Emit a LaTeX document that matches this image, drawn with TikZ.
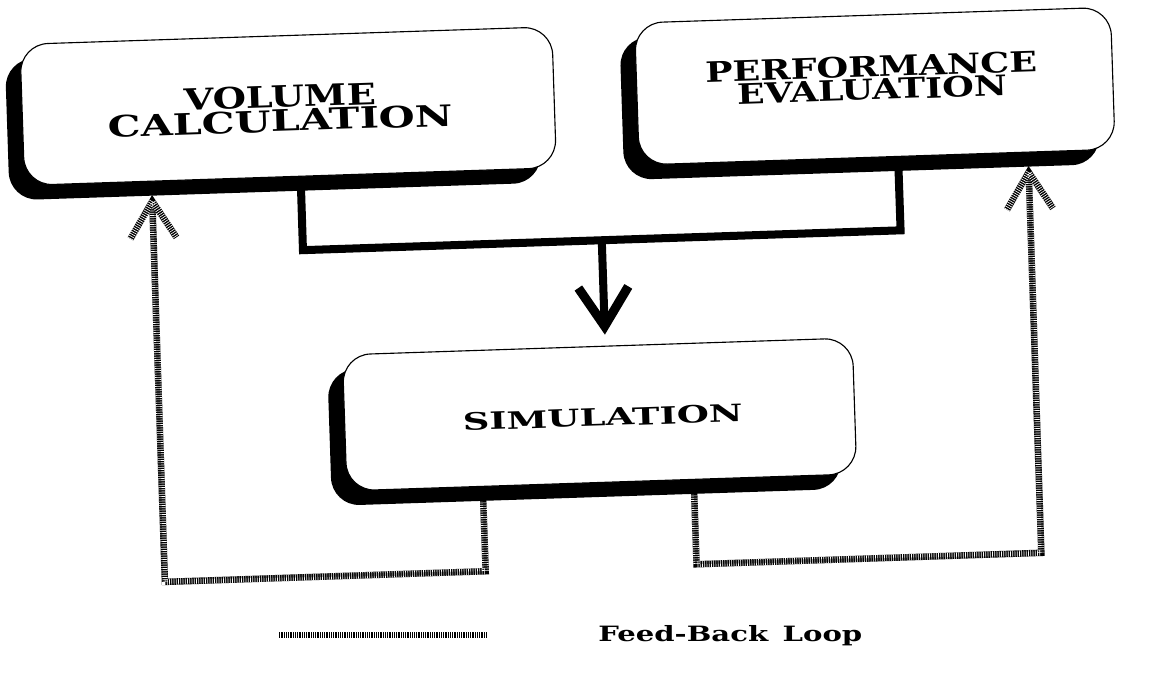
\documentclass[tikz,border=0pt]{standalone}
\usepackage{fontspec}
\setmainfont{DejaVu Serif}
\usepackage{graphicx}
\usetikzlibrary{shadows,backgrounds,calc}

% stretch a line of text to a given width, keeping its height
\newcommand{\stretchto}[2]{\resizebox{#1}{\height}{#2}}

\begin{document}
\begin{tikzpicture}[x=0.025cm, y=-0.025cm,
  box/.style={draw=black, line width=0.8pt, fill=white, rounded corners=0.7cm,
    transform shape, inner sep=0pt,
    general shadow={shadow xshift=-0.375cm, shadow yshift=-0.375cm, fill=black}},
  boxtext/.style={align=center, transform shape, inner sep=0pt},
  flow/.style={line width=5.7pt, draw=black},
  flowhead/.style={line width=6.5pt, draw=black, line join=miter},
  fbline/.style={line width=4.6pt, draw=black, line join=miter,
    postaction={draw=white, line width=4.6pt, dash pattern=on 0.45pt off 1.15pt}},
]
\useasboundingbox (0,0) rectangle (1162,675);
\begin{pgfonlayer}{background}
  \fill[white] (0,0) rectangle (1162,675);
\end{pgfonlayer}

\begin{scope}[rotate around={1.9:(581,337)}]
  % the three process boxes
  \node[box, minimum width=13.3cm, minimum height=3.525cm] (vol) at (296,96.5) {};
  \node[box, minimum width=11.9cm, minimum height=3.55cm] (perf) at (883,96) {};
  \node[box, minimum width=12.75cm, minimum height=3.4cm] (sim) at (597,415) {};

  \node[boxtext, font=\fontsize{21}{17}\selectfont\bfseries] (voltext) at (288,99)
    {\stretchto{4.8cm}{VOLUME}\\\stretchto{8.625cm}{CALCULATION}};
  \node[boxtext, font=\fontsize{20}{16.2}\selectfont\bfseries] (perftext) at (880,88)
    {\stretchto{8.3cm}{PERFORMANCE}\\\stretchto{6.75cm}{EVALUATION}};
  \node[boxtext, font=\fontsize{17}{17}\selectfont\bfseries] (simtext) at (600,418)
    {\stretchto{7cm}{SIMULATION}};

  % bends and tips of the connectors
  \coordinate (va) at ($(vol.south west)!0.519!(vol.south east)$);
  \coordinate (vb) at (306,241);
  \coordinate (pa) at ($(perf.south west)!0.544!(perf.south east)$);
  \coordinate (pb) at (904,241);
  \coordinate (mj) at (605,241);
  \coordinate (mend) at (605,322);
  \coordinate (mtip) at (605,327);
  \coordinate (mh1) at (580,288);
  \coordinate (mh2) at (630,288);

  \coordinate (la) at ($(sim.south west)!0.267!(sim.south east)$);
  \coordinate (lb) at (478,568);
  \coordinate (lc) at (157,568);
  \coordinate (ltip) at (157,187);
  \coordinate (lh1) at (134,224);
  \coordinate (lh2) at (180,224);

  \coordinate (ra) at ($(sim.south west)!0.68!(sim.south east)$);
  \coordinate (rb) at (689,568);
  \coordinate (rc) at (1034,568);
  \coordinate (rtip) at (1034,187);
  \coordinate (rh1) at (1011,224);
  \coordinate (rh2) at (1057,224);

  \begin{pgfonlayer}{background}
    % forward flow into the simulation
    \draw[flow] (va) -- (vb) -- (pb) -- (pa);
    \draw[flow] (mj) -- (mend);
    \draw[flowhead] (mh1) -- (mtip) -- (mh2);
    % feed-back loops
    \draw[fbline] (la) -- (lb) -- (lc) -- (ltip);
    \draw[fbline] (lh1) -- (ltip) -- (lh2);
    \draw[fbline] (ra) -- (rb) -- (rc) -- (rtip);
    \draw[fbline] (rh1) -- (rtip) -- (rh2);
  \end{pgfonlayer}
\end{scope}

% legend
\coordinate (key1) at (278,635);
\coordinate (key2) at (487,635);
\draw[fbline] (key1) -- (key2);
\node[anchor=base west, inner sep=0pt, font=\fontsize{15}{15}\selectfont\bfseries] (keytext) at (598,641)
  {\stretchto{6.6cm}{Feed-Back\hspace{0.5em}Loop}};
\end{tikzpicture}
\end{document}
